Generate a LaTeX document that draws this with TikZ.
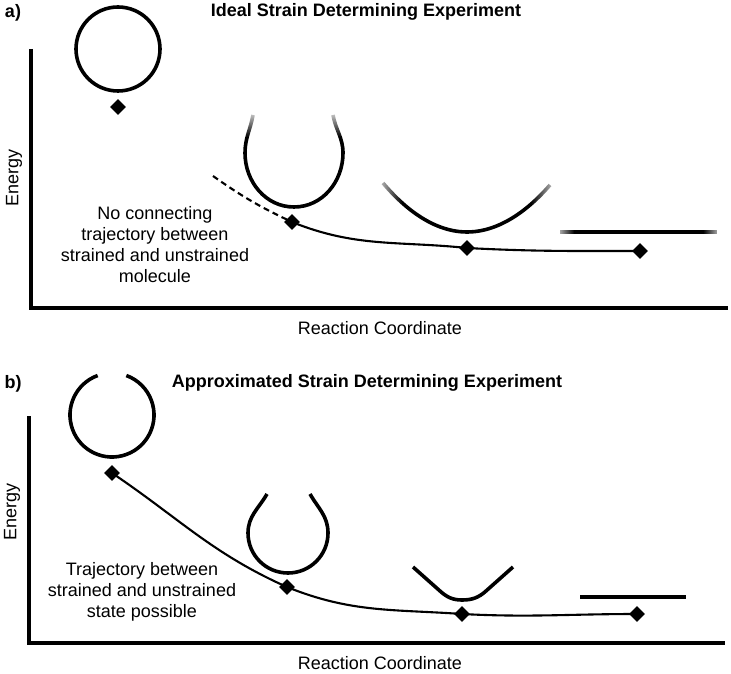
\documentclass[tikz,border=0pt]{standalone}
\usepackage{fontspec}
\setmainfont{Liberation Sans}
\usetikzlibrary{shapes.geometric,fadings}

% fadings for the blurred ends in a)
\tikzfading[name=tipleft, left color=transparent!0, right color=transparent!100]
\tikzfading[name=tipright, left color=transparent!100, right color=transparent!0]
\tikzfading[name=tiptop, top color=transparent!0, bottom color=transparent!100]

\begin{document}
\begin{tikzpicture}[x=1pt, y=1pt,
    every node/.style={font=\fontsize{18}{21}\selectfont},
    heading/.style={font=\fontsize{18}{21}\selectfont\bfseries},
    axis/.style={line width=3.4pt},
    ring/.style={line width=3.6pt},
    state/.style={diamond, fill=black, inner sep=0pt, minimum size=16pt},
    traj/.style={line width=2.1pt}]
    \useasboundingbox (0,0) rectangle (731,673);

    % ---- a) Ideal experiment ----
    \node[heading] (labela) at (13,660) {a)};
    \node[heading] (titlea) at (366,661) {Ideal Strain Determining Experiment};

    % Axes
    \draw[axis] (31,624) -- (31,365) -- (728,365);
    \node[rotate=90] (energya) at (14,495) {Energy};
    \node (rca) at (380,345) {Reaction Coordinate};

    % Molecules
    \draw[ring] (118,624) circle (42);
    \draw[ring] (253,558) to[out=-100,in=90] (245,520) to[out=-90,in=180] (294,466)
        to[out=0,in=-90] (343,520) to[out=90,in=-80] (333,558);
    \draw[ring] (383,490) parabola bend (467,441) (550,488);
    \draw[line width=4.4pt] (560,441) -- (717,441);

    % Blurred ends
    \fill[white, path fading=tiptop] (236,536) rectangle (352,566);
    \fill[white, path fading=tipleft] (372,460) rectangle (402,498);
    \fill[white, path fading=tipright] (531,458) rectangle (561,496);
    \fill[white, path fading=tipleft] (552,436) rectangle (574,446);
    \fill[white, path fading=tipright] (703,436) rectangle (725,446);

    % States
    \node[state] (a1) at (118,566) {};
    \node[state] (a2) at (292,451) {};
    \node[state] (a3) at (467,425) {};
    \node[state] (a4) at (640,422) {};
    \coordinate (a0) at (213,497);

    % Trajectory
    \draw[traj, dash pattern=on 6pt off 4pt] (a0) to[bend right=5] (a2.center);
    \draw[traj] (a2.center) to[out=-22,in=174] (a3.center) to[out=-3,in=180] (a4.center);

    \node[align=center] (notea) at (155,428) {No connecting\\trajectory between\\strained and unstrained\\molecule};

    % ---- b) Approximated experiment ----
    \node[heading] (labelb) at (13,289) {b)};
    \node[heading] (titleb) at (367,290) {Approximated Strain Determining Experiment};

    % Axes
    \draw[axis] (29,257) -- (29,30) -- (725,30);
    \node[rotate=90] (energyb) at (12,161) {Energy};
    \node (rcb) at (380,10) {Reaction Coordinate};

    % Molecules
    \draw[ring] (112,258) ++(110:42) arc[start angle=110, end angle=430, radius=42];
    \draw[ring] (267,179) to[out=-120,in=90] (248,140) to[out=-90,in=180] (288,100)
        to[out=0,in=-90] (328,140) to[out=90,in=-60] (310,179);
    \draw[ring] (413,106) -- (440,82) to[out=-42,in=180] (462,73)
        to[out=0,in=-138] (486,82) -- (513,106);
    \draw[line width=4pt] (580,76) -- (686,76);

    % States
    \node[state] (b1) at (112,200) {};
    \node[state] (b2) at (287,86) {};
    \node[state] (b3) at (462,59) {};
    \node[state] (b4) at (637,59) {};

    % Trajectory
    \draw[traj] (b1.center) to[out=-34,in=156] (b2.center) to[out=-22,in=176] (b3.center)
        to[out=-3,in=180] (b4.center);

    \node[align=center] (noteb) at (142,81) {Trajectory between\\strained and unstrained\\state possible};
\end{tikzpicture}
\end{document}
